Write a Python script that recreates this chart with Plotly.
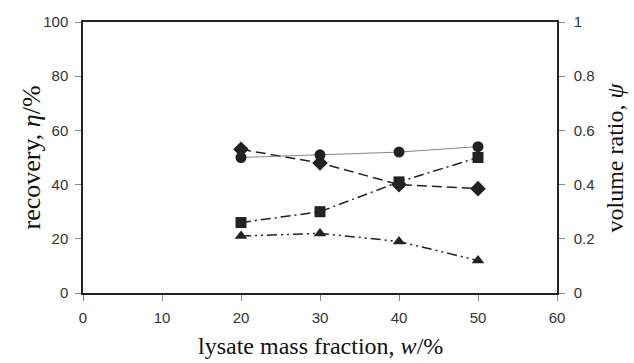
import plotly.graph_objects as go

w = [20, 30, 40, 50]
circle_psi = [0.50, 0.51, 0.52, 0.54]
diamond_eta = [53, 48, 40, 38.5]
square_eta = [26, 30, 41, 50]
triangle_eta = [21, 22, 19, 12]

xticks = [0, 10, 20, 30, 40, 50, 60]
yticks = [0, 20, 40, 60, 80, 100]
y2ticks = [0, 0.2, 0.4, 0.6, 0.8, 1]
y2labels = ["0", "0.2", "0.4", "0.6", "0.8", "1"]

x_title = "lysate mass fraction, <i>w</i>/%"
y_title = "recovery, <i>η</i>/%"
y2_title = "volume ratio, <i>ψ</i>"

fig = go.Figure()
fig.add_trace(go.Scatter(x=w, y=diamond_eta, mode="lines+markers",
                         line=dict(color="#222", width=1.5, dash="10px,5px"),
                         marker=dict(symbol="diamond", size=12, color="#222")))
fig.add_trace(go.Scatter(x=w, y=square_eta, mode="lines+markers",
                         line=dict(color="#222", width=1.5, dash="10px,4px,2px,4px"),
                         marker=dict(symbol="square", size=11, color="#222")))
fig.add_trace(go.Scatter(x=w, y=triangle_eta, mode="lines+markers",
                         line=dict(color="#222", width=1.5, dash="10px,4px,2px,4px,2px,4px"),
                         marker=dict(symbol="triangle-up", size=11, color="#222")))
fig.add_trace(go.Scatter(x=w, y=circle_psi, mode="lines+markers", yaxis="y2",
                         line=dict(color="#666", width=0.8),
                         marker=dict(symbol="circle", size=11, color="#222")))

tickfont = dict(family="Liberation Sans, Arial", size=15, color="#333")
serif = "Liberation Serif, Times New Roman"

fig.update_layout(
    width=634, height=363,
    margin=dict(l=83, r=77, t=22, b=70),
    paper_bgcolor="white", plot_bgcolor="white",
    showlegend=False,
    xaxis=dict(range=[0, 60], tickvals=xticks, showgrid=False, zeroline=False,
               showline=True, linecolor="#222", linewidth=1.5, mirror=True,
               ticks="outside", ticklen=6, tickcolor="#888", ticklabelstandoff=4,
               tickfont=tickfont, automargin=False),
    yaxis=dict(range=[0, 100], tickvals=yticks, showgrid=False, zeroline=False,
               showline=True, linecolor="#222", linewidth=1.5,
               ticks="outside", ticklen=6, tickcolor="#888", ticklabelstandoff=4,
               tickfont=tickfont, automargin=False),
    yaxis2=dict(range=[0, 1], tickvals=y2ticks, ticktext=y2labels, overlaying="y",
                side="right", showgrid=False, zeroline=False,
                showline=True, linecolor="#222", linewidth=1.5,
                ticks="outside", ticklen=6, tickcolor="#888", ticklabelstandoff=6,
                tickfont=tickfont, automargin=False),
    annotations=[
        dict(text=x_title, xref="paper", yref="paper", x=0.5, y=0, xanchor="center",
             yanchor="middle", yshift=-53, showarrow=False,
             font=dict(family=serif, size=24, color="#111")),
        dict(text=y_title, xref="paper", yref="paper", x=0, y=0.5, xanchor="center",
             yanchor="middle", xshift=-52, textangle=-90, showarrow=False,
             font=dict(family=serif, size=26, color="#111")),
        dict(text=y2_title, xref="paper", yref="paper", x=1, y=0.5, xanchor="center",
             yanchor="middle", xshift=57, textangle=-90, showarrow=False,
             font=dict(family=serif, size=24, color="#111")),
    ],
)

fig.write_html("out.html")
